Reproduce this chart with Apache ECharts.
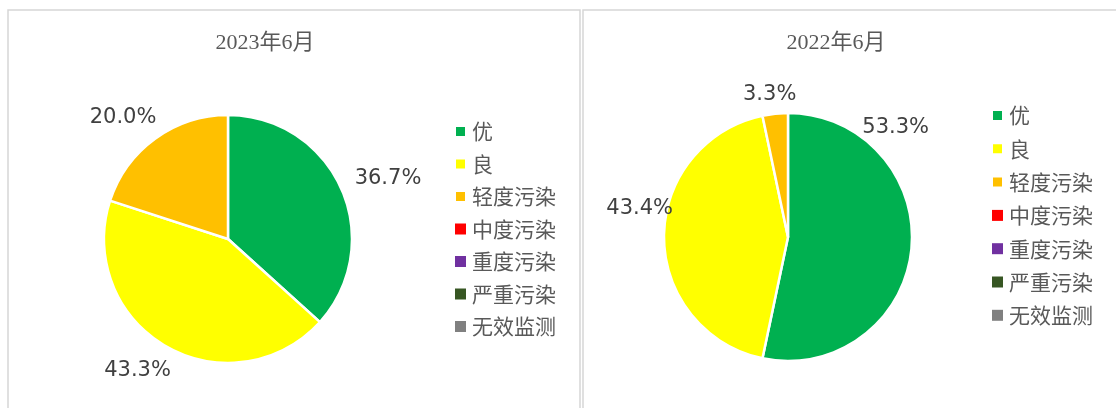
<!DOCTYPE html>
<html><head><meta charset="utf-8">
<script src="https://cdn.jsdelivr.net/npm/echarts@6/dist/echarts.min.js"></script>
<style>html,body{margin:0;padding:0;background:#fff}#c{width:1116px;height:408px}</style>
</head><body><div id="c"></div>
<script>
// ---- data ----
const categories = ['优', '良', '轻度污染', '中度污染', '重度污染', '严重污染', '无效监测'];
const values2023 = [36.7, 43.3, 20.0, 0, 0, 0, 0];
const values2022 = [53.3, 43.4, 3.3, 0, 0, 0, 0];
const titles = ['2023年6月', '2022年6月'];

// ---- styles / layout ----
const colors = ['#00B050', '#FFFF00', '#FFC000', '#FF0000', '#7030A0', '#375623', '#808080'];
const labelNudge = [
  [[1, -7], [14, 17], [11, -15]],
  [[-62, -123], [22, -28], [27, -11]]
];
const borderColor = '#d6d6d6';

function pieSeries(vals, center, idx) {
  return {
    type: 'pie',
    center: center,
    radius: 124,
    startAngle: 90,
    clockwise: true,
    avoidLabelOverlap: false,
    emphasis: { scale: false },
    itemStyle: { borderColor: '#ffffff', borderWidth: 2.5 },
    label: {
      position: 'outside',
      formatter: p => p.value.toFixed(1) + '%',
      color: '#404040',
      fontFamily: 'DejaVu Sans',
      fontSize: 21
    },
    labelLine: { show: false, length: 8, length2: 0 },
    labelLayout: p => {
      const n = labelNudge[idx][p.dataIndex];
      return n ? { dx: n[0], dy: n[1] } : {};
    },
    data: categories.map((n, i) => ({
      name: n,
      value: vals[i],
      label: { show: vals[i] > 0 },
      itemStyle: vals[i] > 0 ? {} : { borderWidth: 0 }
    }))
  };
}

function legendCfg(left, top, gap) {
  return {
    orient: 'vertical', left: left, top: top, padding: 0, itemGap: gap,
    itemWidth: 11, itemHeight: 11, icon: 'rect', selectedMode: false,
    data: categories,
    textStyle: { color: '#595959', fontSize: 21, lineHeight: 21, fontFamily: "'Noto Sans CJK SC'", padding: [0, 0, 0, 1] }
  };
}

const chart = echarts.init(document.getElementById('c'), null, { renderer: 'canvas' });
chart.setOption({
  animation: false,
  color: colors,
  graphic: [
    { type: 'rect', shape: { x: 8, y: 10, width: 572, height: 430 }, style: { fill: null, stroke: borderColor, lineWidth: 1.5 }, z: -1 },
    { type: 'rect', shape: { x: 583, y: 10, width: 560, height: 430 }, style: { fill: null, stroke: borderColor, lineWidth: 1.5 }, z: -1 },
    { type: 'text', style: { x: 265, y: 43, text: titles[0], textAlign: 'center', textVerticalAlign: 'middle', fill: '#595959', font: "22px 'Liberation Serif', 'Noto Sans CJK SC'" } },
    { type: 'text', style: { x: 836, y: 43, text: titles[1], textAlign: 'center', textVerticalAlign: 'middle', fill: '#595959', font: "22px 'Liberation Serif', 'Noto Sans CJK SC'" } }
  ],
  legend: [legendCfg(454, 121, 11.5), legendCfg(991, 105, 12.3)],
  series: [
    pieSeries(values2023, [228, 239], 0),
    pieSeries(values2022, [788, 237], 1)
  ]
});
</script>
</body></html>
